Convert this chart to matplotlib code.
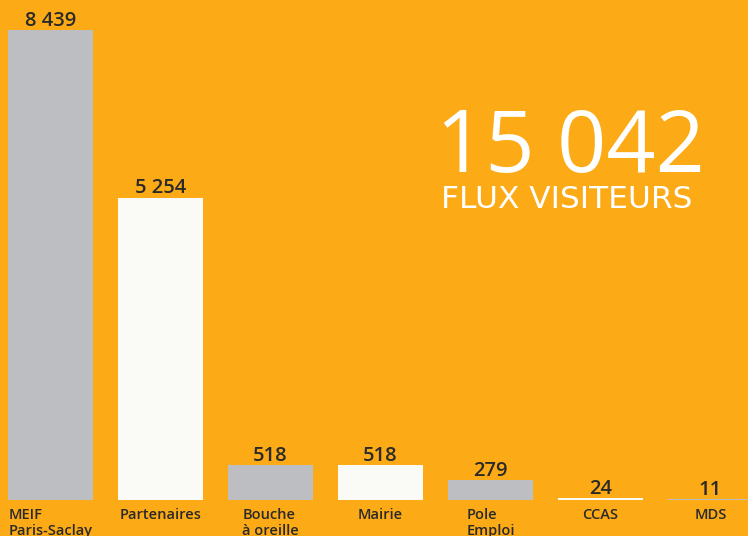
import numpy as np
import matplotlib.pyplot as plt

# Visitor flow by source channel
categories = ['MEIF\nParis-Saclay', 'Partenaires', 'Bouche\nà oreille', 'Mairie',
              'Pole\nEmploi', 'CCAS', 'MDS']
visitors   = [8439, 5254, 518, 518, 279, 24, 11]
value_text = ['8 439', '5 254', '518', '518', '279', '24', '11']
total_text = '15 042'
total_sub  = 'FLUX VISITEURS'

orange = '#FDAA17'
grey   = '#BDBEC1'
white  = '#FAFAF7'
dark   = '#2A2A28'

plt.rcParams['font.family'] = ['Open Sans', 'DejaVu Sans']

fig = plt.figure(figsize=(7.48, 5.36), dpi=100, facecolor=orange)
ax = fig.add_axes([0, 36/536, 1, 470/536])
ax.set_facecolor(orange)

#bars in the infographic are drawn slightly compressed -> power scale
p = 0.93
ax.set_yscale('function', functions=(lambda v: np.sign(v)*np.abs(v)**p,
                                     lambda v: np.sign(v)*np.abs(v)**(1/p)))

x = np.arange(len(categories))
colors = [grey if i % 2 == 0 else white for i in range(len(categories))]
ax.bar(x, visitors, width=0.764, color=colors, linewidth=0)

for xi, v, t in zip(x, visitors, value_text):
    ax.annotate(t, (xi, v), xytext=(0, 3), textcoords='offset points',
                ha='center', va='baseline', fontsize=14.5, fontweight='semibold', color=dark)

ax.set_xlim(-50.5/110, (748-50.5)/110)
ax.set_ylim(0, max(visitors))

ax.set_xticks(x, categories)
ax.tick_params(axis='x', length=0, pad=6, labelsize=10.5, labelcolor=dark)
for lbl in ax.get_xticklabels():
    lbl.set_fontweight('semibold')
    lbl.set_multialignment('left')
    lbl.set_linespacing(1.15)
ax.set_yticks([])
for s in ax.spines.values():
    s.set_visible(False)

#headline figure
fig.text(570/748, 1 - 172/536, total_text, ha='center', va='baseline',
         fontsize=62, color='white')
fig.text(567/748, 1 - 208/536, total_sub, ha='center', va='baseline',
         fontsize=22.5, color='white', family='DejaVu Sans')

fig.savefig('out.png', dpi=100, facecolor=orange)
